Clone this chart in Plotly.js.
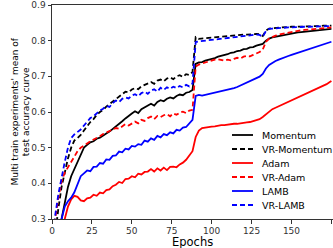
<!DOCTYPE html>
<html>
<head>
<meta charset="utf-8">
<script src="https://cdn.plot.ly/plotly-3.0.1.min.js"></script>
<style>html,body{margin:0;padding:0;background:#fff;}#chart{width:333px;height:248px;}</style>
</head>
<body>
<div id="chart"></div>
<script>
const epochs = [0,2,4,6,8,10,12,14,16,18,20,22,24,26,28,30,32,34,36,38,40,42,44,46,48,50,52,54,56,58,60,62,64,66,68,70,72,74,76,78,80,82,84,86,88,
  90,92,94,96,98,100,102,104,106,108,110,112,114,116,118,120,122,124,126,128,130,132,134,136,138,140,142,144,146,148,150,152,154,156,158,160,162,164,166,168,170,172,174,175];

const momentum = [0.10,0.16,0.23,0.30,0.35,0.39,0.42,0.44,0.465,0.485,
  0.50,0.508,0.515,0.518,0.525,0.528,0.535,0.540,0.545,0.552,
  0.558,0.567,0.574,0.582,0.590,0.596,0.602,0.597,0.608,0.613,
  0.619,0.623,0.618,0.628,0.633,0.630,0.637,0.641,0.638,0.645,
  0.649,0.647,0.654,0.656,0.662,
  0.735,0.739,0.740,0.744,0.746,0.750,0.751,0.755,0.757,0.760,
  0.762,0.766,0.767,0.771,0.772,0.776,0.777,0.781,0.782,0.786,
  0.788,0.791,0.800,0.806,0.809,0.811,0.813,0.815,0.817,0.819,
  0.820,0.822,0.823,0.824,0.825,0.826,0.827,0.828,0.829,0.830,
  0.831,0.832,0.833,0.833];

const vrMomentum = [0.18,0.26,0.33,0.39,0.43,0.47,0.50,0.52,0.527,0.536,
  0.548,0.560,0.572,0.580,0.592,0.600,0.606,0.615,0.622,0.630,
  0.637,0.643,0.650,0.657,0.655,0.663,0.667,0.664,0.672,0.676,
  0.680,0.684,0.679,0.688,0.691,0.686,0.694,0.697,0.692,0.700,
  0.703,0.698,0.706,0.704,0.712,
  0.810,0.805,0.806,0.807,0.808,0.809,0.810,0.811,0.812,0.812,
  0.813,0.814,0.815,0.815,0.816,0.817,0.817,0.818,0.818,0.819,
  0.818,0.813,0.828,0.834,0.835,0.836,0.837,0.837,0.838,0.838,
  0.839,0.839,0.839,0.840,0.840,0.840,0.841,0.841,0.841,0.841,
  0.842,0.842,0.842,0.842];

const adam = [0.05,0.10,0.16,0.24,0.30,0.335,0.355,0.365,0.362,0.352,
  0.350,0.358,0.360,0.368,0.365,0.374,0.372,0.381,0.383,0.392,
  0.396,0.404,0.401,0.412,0.413,0.420,0.417,0.427,0.425,0.432,
  0.433,0.440,0.433,0.442,0.436,0.444,0.437,0.446,0.447,0.445,
  0.453,0.458,0.466,0.478,0.490,
  0.530,0.548,0.555,0.557,0.558,0.559,0.560,0.562,0.563,0.563,
  0.565,0.566,0.567,0.567,0.569,0.570,0.571,0.572,0.574,0.576,
  0.580,0.586,0.594,0.602,0.608,0.612,0.616,0.620,0.624,0.628,
  0.632,0.636,0.640,0.644,0.648,0.652,0.656,0.660,0.664,0.668,
  0.673,0.678,0.684,0.687];

const vrAdam = [0.22,0.30,0.36,0.405,0.43,0.445,0.46,0.475,0.49,0.50,
  0.505,0.512,0.518,0.522,0.528,0.532,0.538,0.542,0.545,0.551,
  0.555,0.553,0.560,0.566,0.562,0.568,0.573,0.568,0.578,0.575,
  0.583,0.587,0.580,0.589,0.586,0.591,0.594,0.588,0.596,0.592,
  0.598,0.601,0.597,0.604,0.606,
  0.727,0.733,0.736,0.739,0.742,0.745,0.747,0.748,0.746,0.744,
  0.747,0.745,0.749,0.752,0.750,0.755,0.757,0.756,0.760,0.763,
  0.768,0.775,0.797,0.806,0.811,0.814,0.817,0.819,0.821,0.823,
  0.825,0.826,0.828,0.829,0.830,0.831,0.832,0.833,0.834,0.835,
  0.836,0.836,0.837,0.837];

const lamb = [0.10,0.18,0.25,0.30,0.335,0.35,0.36,0.375,0.40,0.42,
  0.428,0.436,0.434,0.446,0.447,0.457,0.455,0.467,0.466,0.477,
  0.478,0.489,0.487,0.497,0.495,0.505,0.503,0.510,0.508,0.520,
  0.517,0.526,0.522,0.533,0.529,0.538,0.535,0.543,0.540,0.550,
  0.548,0.556,0.558,0.568,0.578,
  0.645,0.648,0.646,0.648,0.650,0.651,0.653,0.655,0.657,0.659,
  0.661,0.664,0.667,0.670,0.674,0.677,0.681,0.685,0.689,0.693,
  0.699,0.707,0.722,0.732,0.738,0.743,0.747,0.751,0.754,0.757,
  0.760,0.763,0.766,0.769,0.772,0.775,0.778,0.781,0.784,0.787,
  0.790,0.793,0.796,0.797];

const vrLamb = [0.22,0.31,0.37,0.42,0.46,0.50,0.527,0.537,0.545,0.551,
  0.562,0.574,0.583,0.588,0.597,0.604,0.609,0.617,0.614,0.625,
  0.632,0.628,0.637,0.641,0.638,0.646,0.650,0.644,0.653,0.657,
  0.651,0.660,0.664,0.657,0.668,0.662,0.669,0.665,0.671,0.667,
  0.673,0.669,0.676,0.672,0.680,
  0.796,0.798,0.799,0.800,0.801,0.803,0.804,0.805,0.806,0.807,
  0.808,0.809,0.810,0.811,0.812,0.813,0.814,0.815,0.816,0.817,
  0.816,0.811,0.827,0.833,0.834,0.835,0.835,0.836,0.836,0.837,
  0.837,0.838,0.838,0.838,0.839,0.839,0.839,0.840,0.840,0.840,
  0.840,0.841,0.841,0.841];

const seriesNames = ["Momentum","VR-Momentum","Adam","VR-Adam","LAMB","VR-LAMB"];
const seriesData = [momentum, vrMomentum, adam, vrAdam, lamb, vrLamb];
const seriesColors = ["#000000","#000000","#ff0000","#ff0000","#0000ff","#0000ff"];
const seriesDashed = [false,true,false,true,false,true];
const xTicks = [0,25,50,75,100,125,150,175];
const yTicks = [0.3,0.4,0.5,0.6,0.7,0.8,0.9];

const FONT = "DejaVu Sans, sans-serif";
const DASH = "5px,3px";
const PL = 52, PR = 333, PT = 5, PB = 219;
const px2x = p => (p - PL) / (PR - PL);
const px2y = p => (PB - p) / (PB - PT);

const traces = seriesData.map((d, i) => ({
  x: epochs, y: d, type: "scatter", mode: "lines", name: seriesNames[i],
  line: {color: seriesColors[i], width: 1.8, dash: seriesDashed[i] ? DASH : "solid"},
  hoverinfo: "skip", showlegend: false
}));

const shapes = [];
const annotations = [];
seriesNames.forEach((n, i) => {
  const yy = 135 + i * 14;
  shapes.push({type: "line", xref: "paper", yref: "paper",
    x0: px2x(232), x1: px2x(253), y0: px2y(yy), y1: px2y(yy),
    line: {color: seriesColors[i], width: 1.8, dash: seriesDashed[i] ? DASH : "solid"}});
  annotations.push({xref: "paper", yref: "paper", x: px2x(260), y: px2y(yy),
    xanchor: "left", yanchor: "middle", showarrow: false, text: n,
    font: {family: FONT, size: 9.5, color: "#000"}});
});
annotations.push({xref: "paper", yref: "paper", x: 0.5, y: px2y(241.5), xanchor: "center", yanchor: "middle",
  showarrow: false, text: "Epochs", font: {family: FONT, size: 11.5, color: "#000"}});
annotations.push({xref: "paper", yref: "paper", x: px2x(20.5), y: 0.5, xanchor: "center", yanchor: "middle",
  showarrow: false, textangle: -90, text: "Multi train experiments' mean of<br>test accuracy curve",
  font: {family: FONT, size: 9, color: "#000"}});

const layout = {
  width: 333, height: 248,
  margin: {l: PL, r: 333 - PR, t: PT, b: 248 - PB, pad: 0},
  paper_bgcolor: "#fff", plot_bgcolor: "#fff",
  showlegend: false,
  xaxis: {range: [0, 176], tickvals: xTicks, ticktext: xTicks.map(String),
    showgrid: false, zeroline: false, showline: true, mirror: true, linecolor: "#333", linewidth: 1,
    ticks: "outside", ticklen: 3.5, tickwidth: 1, tickcolor: "#333",
    tickfont: {family: FONT, size: 9, color: "#333"}},
  yaxis: {range: [0.3, 0.9], tickvals: yTicks, ticktext: yTicks.map(v => v.toFixed(1)),
    showgrid: false, zeroline: false, showline: true, linecolor: "#333", linewidth: 1,
    ticks: "outside", ticklen: 3.5, tickwidth: 1, tickcolor: "#333",
    tickfont: {family: FONT, size: 9, color: "#333"}},
  shapes: shapes,
  annotations: annotations
};

Plotly.newPlot("chart", traces, layout, {staticPlot: true, displayModeBar: false});
</script>
</body>
</html>
